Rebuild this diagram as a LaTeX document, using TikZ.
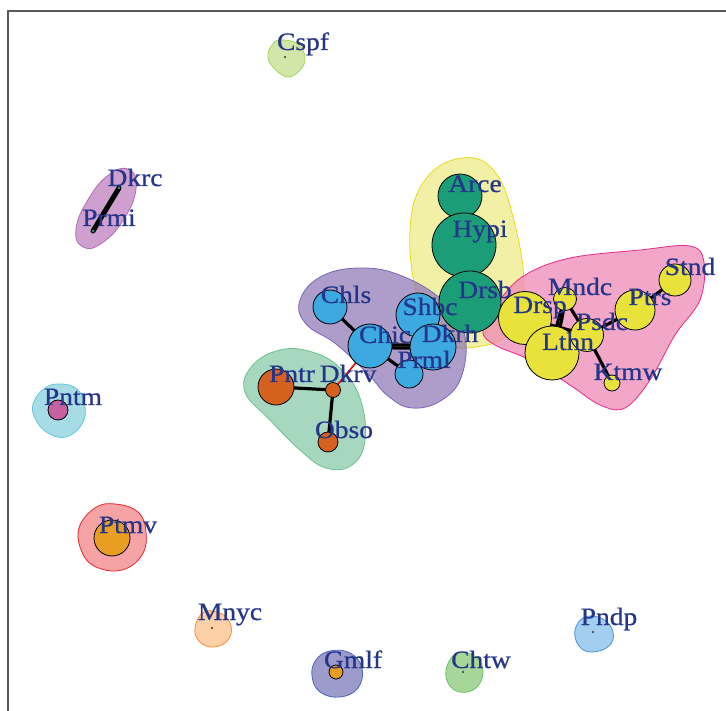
\documentclass[tikz,border=0pt]{standalone}
\usepackage{fontspec}
\setmainfont{Liberation Serif}
\newfontfamily\labfont{Liberation Serif}[FakeStretch=1.1, FakeBold=0.7]
\pgfdeclarelayer{hull}
\pgfdeclarelayer{edge}
\pgfsetlayers{hull,edge,main}

% vertex colours
\definecolor{lbl}{HTML}{25358A}
\definecolor{vgreen}{HTML}{1B9E77}
\definecolor{vblue}{HTML}{3DA9E1}
\definecolor{vorange}{HTML}{D6601E}
\definecolor{vyellow}{HTML}{E8E23A}
\definecolor{vmag}{HTML}{C561A0}
\definecolor{vamber}{HTML}{E79E22}
% group hull colours (fill / border)
\definecolor{hYel}{HTML}{EEEB86}\definecolor{bYel}{HTML}{E6DC1A}
\definecolor{hPnk}{HTML}{EE88B6}\definecolor{bPnk}{HTML}{E7298A}
\definecolor{hPur}{HTML}{937BBA}\definecolor{bPur}{HTML}{7A68B5}
\definecolor{hGrn}{HTML}{8ACBAA}\definecolor{bGrn}{HTML}{6CC08A}
\definecolor{hCspf}{HTML}{D3E6A9}\definecolor{bCspf}{HTML}{A4D65E}
\definecolor{hPntm}{HTML}{A7DCE6}\definecolor{bPntm}{HTML}{5FC8DC}
\definecolor{hPtmv}{HTML}{F5A3A5}\definecolor{bPtmv}{HTML}{E8262D}
\definecolor{hMnyc}{HTML}{FDD0A8}\definecolor{bMnyc}{HTML}{F98B3A}
\definecolor{hGmlf}{HTML}{9C9BCB}\definecolor{bGmlf}{HTML}{4A64B8}
\definecolor{hChtw}{HTML}{A6D69A}\definecolor{bChtw}{HTML}{6EBF63}
\definecolor{hPndp}{HTML}{A3CEF0}\definecolor{bPndp}{HTML}{4B94D6}
\definecolor{hDkrc}{HTML}{CFA0CF}\definecolor{bDkrc}{HTML}{B070B5}

\tikzset{
  vx/.style={circle, draw=black, line width=0.8pt, inner sep=0pt, minimum size=#1pt},
  dot/.style={circle, fill=black!80, inner sep=0pt, minimum size=2.2pt},
  lab/.style={text=lbl, font=\labfont\fontsize{25}{25}\selectfont, anchor=base, inner sep=0pt},
  hull/.style 2 args={fill=#1, draw=#2, line width=0.8pt},
  softhull/.style 2 args={fill=#1, fill opacity=0.75, draw=#2, line width=0.8pt},
  tie/.style={draw=black, line width=3.2pt},
  cross/.style={draw=red, line width=1.6pt},
  frame/.style={draw=black!65, line width=1.6pt}
}

\begin{document}
\begin{tikzpicture}[x=1pt,y=-1pt]
\useasboundingbox (0,0) rectangle (726,711);

% plot frame (top and left edges)
\draw[frame] (8,711) -- (8,11) -- (726,11);

% ---------------- group hulls ----------------
\begin{pgfonlayer}{hull}
  \draw[softhull={hYel}{bYel}] plot[smooth cycle, tension=0.7] coordinates
    {(462,158) (495,172) (515,225) (524,290) (512,330) (482,346) (440,342) (418,300) (410,230) (425,180)};
  \draw[softhull={hPur}{bPur}] plot[smooth cycle, tension=0.7] coordinates
    {(300,300) (322,276) (362,268) (402,276) (442,300) (464,332) (462,375) (442,400) (412,408) (388,396) (368,374) (336,344) (306,324)};
  \draw[softhull={hGrn}{bGrn}] plot[smooth cycle, tension=0.7] coordinates
    {(252,366) (280,350) (312,352) (340,368) (360,398) (365,440) (352,465) (326,468) (300,450) (270,420) (245,392)};
  \draw[softhull={hPnk}{bPnk}] plot[smooth cycle, tension=0.6] coordinates
    {(483,330) (500,300) (525,275) (570,258) (640,250) (690,246) (704,262) (700,300) (675,335) (650,380) (625,408) (600,405) (570,385) (530,360) (495,345)};
  \draw[hull={hDkrc}{bDkrc}] plot[smooth cycle, tension=0.8] coordinates
    {(130,170) (136,189) (124,219) (102,243) (83,247) (76,229) (89,198) (110,174)};
  \draw[hull={hCspf}{bCspf}] plot[smooth cycle, tension=0.7] coordinates
    {(280,40) (298,44) (305,58) (300,70) (287,77) (272,66) (268,55) (272,45)};
  \draw[hull={hPntm}{bPntm}] plot[smooth cycle, tension=0.7] coordinates
    {(45,388) (62,384) (78,390) (85,406) (82,424) (66,437) (48,433) (36,420) (33,404)};
  \draw[hull={hPtmv}{bPtmv}] plot[smooth cycle, tension=0.7] coordinates
    {(95,508) (115,504) (138,512) (146,532) (142,555) (122,570) (96,567) (82,552) (79,528)};
  \draw[hull={hMnyc}{bMnyc}] plot[smooth cycle, tension=0.7] coordinates
    {(204,612) (222,614) (231,626) (228,640) (214,647) (200,642) (195,628)};
  \draw[hull={hGmlf}{bGmlf}] plot[smooth cycle, tension=0.7] coordinates
    {(330,651) (350,653) (362,668) (358,688) (340,697) (320,692) (312,676) (316,660)};
  \draw[hull={hChtw}{bChtw}] plot[smooth cycle, tension=0.7] coordinates
    {(458,653) (476,657) (483,672) (476,688) (460,692) (448,683) (447,666)};
  \draw[hull={hPndp}{bPndp}] plot[smooth cycle, tension=0.7] coordinates
    {(585,617) (603,619) (613,632) (609,646) (592,652) (579,646) (575,630)};
\end{pgfonlayer}

% ---------------- vertices ----------------
% green group
\node[vx=44, fill=vgreen] (Arce) at (460,196) {};
\node[vx=64, fill=vgreen] (Hypi) at (464,245) {};
\node[vx=62, fill=vgreen] (Drsb) at (470,302) {};
% blue group
\node[vx=34, fill=vblue] (Chls) at (330,307) {};
\node[vx=44, fill=vblue] (Shbc) at (418,315) {};
\node[vx=44, fill=vblue] (Chic) at (370,346) {};
\node[vx=46, fill=vblue] (Dkrh) at (433,347) {};
\node[vx=28, fill=vblue] (Prml) at (409,374) {};
% orange group
\node[vx=36, fill=vorange] (Pntr) at (276,387) {};
\node[vx=15, fill=vorange] (Dkrv) at (333,390) {};
\node[vx=20, fill=vorange] (Obso) at (328,442) {};
% yellow group
\node[vx=53, fill=vyellow] (Drsp) at (525,318) {};
\node[vx=54, fill=vyellow] (Lthn) at (552,353) {};
\node[vx=23, fill=vyellow] (Mndc) at (565,299) {};
\node[vx=33, fill=vyellow] (Psdc) at (587,335) {};
\node[vx=40, fill=vyellow] (Ptrs) at (635,310) {};
\node[vx=32, fill=vyellow] (Stnd) at (675,280) {};
\node[vx=16, fill=vyellow] (Ktmw) at (612,383) {};
% singletons and pairs
\node[vx=20, fill=vmag] (Pntm) at (58,410) {};
\node[vx=36, fill=vamber] (Ptmv) at (112,538) {};
\node[vx=14, fill=vamber] (Gmlf) at (336,672) {};
\node[dot] (Cspf) at (285,57) {};
\node[dot] (Mnyc) at (212,628) {};
\node[dot] (Chtw) at (463,672) {};
\node[dot] (Pndp) at (593,632) {};
\node[circle, fill=vgreen, inner sep=0pt, minimum size=3pt] (Dkrc) at (119,188) {};
\node[circle, fill=vgreen, inner sep=0pt, minimum size=3pt] (Prmi) at (93,231) {};

% ---------------- edges ----------------
\begin{pgfonlayer}{edge}
  \draw[tie] (Arce.center) -- (Hypi.center);
  \draw[tie] (Hypi.center) -- (Drsb.center);
  \draw[tie] (Chls.center) -- (Chic.center);
  \draw[tie] (Chic.center) to[bend left=5] (Dkrh.center);
  \draw[tie] (Chic.center) to[bend right=5] (Dkrh.center);
  \draw[tie] (Chic.center) -- (Prml.center);
  \draw[cross] (Shbc.center) -- (Drsb.center);
  \draw[tie] (Pntr.center) -- (Dkrv.center);
  \draw[tie] (Dkrv.center) -- (Obso.center);
  \draw[cross] (Dkrv.center) -- (Chic.center);
  \draw[tie] (Mndc.center) to[bend left=6] (Lthn.center);
  \draw[tie] (Mndc.center) to[bend right=6] (Lthn.center);
  \draw[tie] (Mndc.center) -- (Psdc.center);
  \draw[tie] (Drsp.center) -- (Psdc.center);
  \draw[tie] (Psdc.center) -- (Ptrs.center);
  \draw[tie] (Ptrs.center) -- (Stnd.center);
  \draw[tie] (Psdc.center) -- (Ktmw.center);
  \draw[tie, line width=5pt, line cap=round] (Dkrc.center) -- (Prmi.center);
\end{pgfonlayer}

% ---------------- labels ----------------
\node[lab] (lArce) at (475,192) {Arce};
\node[lab] (lHypi) at (480,237) {Hypi};
\node[lab] (lDrsb) at (485,298) {Drsb};
\node[lab] (lChls) at (346,303) {Chls};
\node[lab] (lShbc) at (430,315) {Shbc};
\node[lab] (lChic) at (385,343) {Chic};
\node[lab] (lDkrh) at (450,342) {Dkrh};
\node[lab] (lPrml) at (424,368) {Prml};
\node[lab] (lPntr) at (292,382) {Pntr};
\node[lab] (lDkrv) at (348,382) {Dkrv};
\node[lab] (lObso) at (344,438) {Obso};
\node[lab] (lDrsp) at (540,313) {Drsp};
\node[lab] (lMndc) at (580,295) {Mndc};
\node[lab] (lPsdc) at (602,330) {Psdc};
\node[lab] (lLthn) at (568,350) {Lthn};
\node[lab] (lPtrs) at (650,305) {Ptrs};
\node[lab] (lStnd) at (690,275) {Stnd};
\node[lab] (lKtmw) at (628,380) {Ktmw};
\node[lab] (lPntm) at (73,405) {Pntm};
\node[lab] (lPtmv) at (128,533) {Ptmv};
\node[lab] (lMnyc) at (230,620) {Mnyc};
\node[lab] (lGmlf) at (353,668) {Gmlf};
\node[lab] (lChtw) at (481,668) {Chtw};
\node[lab] (lPndp) at (609,625) {Pndp};
\node[lab] (lCspf) at (303,50) {Cspf};
\node[lab] (lDkrc) at (135,186) {Dkrc};
\node[lab] (lPrmi) at (109,226) {Prmi};
\end{tikzpicture}
\end{document}
